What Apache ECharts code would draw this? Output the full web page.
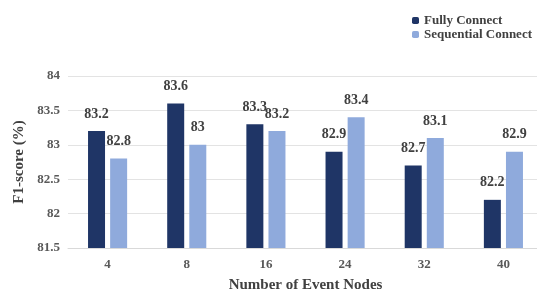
<!DOCTYPE html>
<html><head><meta charset="utf-8">
<script src="https://cdn.jsdelivr.net/npm/echarts@6/dist/echarts.min.js"></script>
<style>html,body{margin:0;padding:0;background:#fff}#c{width:537px;height:292px}</style>
</head><body><div id="c"></div>
<script>
const categories = ['4','8','16','24','32','40'];
const fullyConnect = [83.2, 83.6, 83.3, 82.9, 82.7, 82.2];
const sequentialConnect = [82.8, 83.0, 83.2, 83.4, 83.1, 82.9];
const seriesNames = ['Fully Connect','Sequential Connect'];
const font = 'Liberation Serif';
const chart = echarts.init(document.getElementById('c'));
const lbl = {show:true, position:'top', distance:10, fontFamily:font, fontWeight:'bold', fontSize:14, color:'#404040'};
chart.setOption({
  animation:false,
  legend:{orient:'vertical', left:407, top:9, itemWidth:7, itemHeight:7, itemGap:1,
    textStyle:{fontFamily:font, fontWeight:'bold', fontSize:13, color:'#404040'},
    data:seriesNames},
  grid:{left:68, top:76, width:475, height:172, outerBoundsMode:'none', containLabel:false},
  xAxis:{type:'category', data:categories,
    axisLine:{lineStyle:{color:'#d9d9d9'}}, axisTick:{show:false},
    axisLabel:{fontFamily:font, fontWeight:'bold', fontSize:13, color:'#595959', margin:10},
    name:'Number of Event Nodes', nameLocation:'middle', nameGap:30,
    nameTextStyle:{fontFamily:font, fontWeight:'bold', fontSize:15, color:'#404040'}},
  yAxis:{type:'value', min:81.5, max:84, interval:0.5,
    axisLine:{show:false}, axisTick:{show:false},
    splitLine:{lineStyle:{color:'#e3e3e3'}},
    axisLabel:{fontFamily:font, fontWeight:'bold', fontSize:13, color:'#595959', margin:8},
    name:'F1-score (%)', nameLocation:'middle', nameGap:38,
    nameTextStyle:{fontFamily:font, fontWeight:'bold', fontSize:15, color:'#404040'}},
  series:[
    {name:seriesNames[0], type:'bar', data:fullyConnect, barWidth:17, barGap:'30%',
      itemStyle:{color:'#1F3566'}, label:lbl},
    {name:seriesNames[1], type:'bar', data:sequentialConnect, barWidth:17,
      itemStyle:{color:'#8FAADC'}, label:lbl}
  ]
});
</script></body></html>
